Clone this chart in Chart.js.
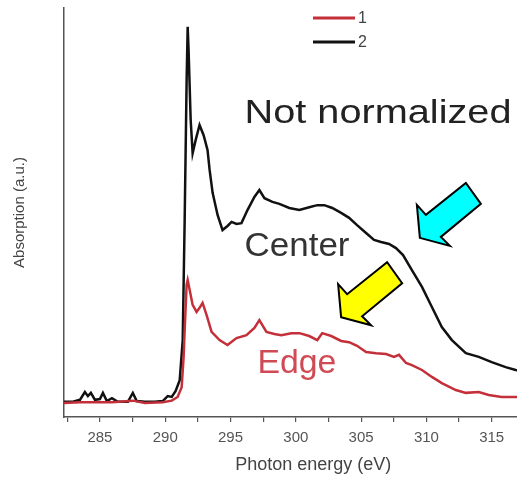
<!DOCTYPE html>
<html>
<head>
<meta charset="utf-8">
<script src="https://cdn.jsdelivr.net/npm/chart.js@4"></script>
<style>
  html, body { margin: 0; padding: 0; background: #fff; overflow: hidden; }
  #wrap { width: 564px; height: 481px; }
</style>
</head>
<body>
<div id="wrap"><canvas id="myChart" width="564" height="481"></canvas></div>
<script>
// series 2 (black, centre)
var energy2 = [282.25, 282.86, 283.47, 283.85, 284.08, 284.31, 284.62, 285.0, 285.23, 285.53, 285.92, 286.37, 287.14, 287.52, 287.82, 288.44, 289.2, 289.81, 290.19, 290.5, 290.8, 291.11, 291.34, 291.49, 291.64, 291.72, 291.79, 291.95, 292.1, 292.33, 292.63, 292.94, 293.24, 293.4, 293.63, 294.01, 294.39, 294.77, 295.08, 295.46, 295.84, 296.3, 296.83, 297.21, 297.6, 298.21, 298.74, 299.5, 300.27, 301.03, 301.64, 302.18, 302.79, 303.47, 304.08, 304.69, 305.38, 305.99, 306.53, 307.14, 307.67, 308.21, 308.89, 309.66, 310.42, 311.18, 311.95, 313.02, 314.01, 315.0, 316.07, 316.83, 317.82, 319.35, 320.42];
var absorb2 = [0.037, 0.037, 0.042, 0.061, 0.051, 0.059, 0.042, 0.044, 0.059, 0.039, 0.046, 0.037, 0.037, 0.059, 0.039, 0.037, 0.037, 0.039, 0.051, 0.049, 0.064, 0.09, 0.188, 0.482, 0.824, 0.954, 0.897, 0.726, 0.645, 0.677, 0.714, 0.689, 0.653, 0.604, 0.548, 0.494, 0.457, 0.467, 0.477, 0.472, 0.474, 0.506, 0.538, 0.555, 0.535, 0.526, 0.521, 0.511, 0.506, 0.513, 0.518, 0.518, 0.511, 0.499, 0.487, 0.469, 0.45, 0.433, 0.428, 0.423, 0.413, 0.396, 0.359, 0.318, 0.269, 0.22, 0.188, 0.156, 0.147, 0.134, 0.122, 0.115, 0.11, 0.108, 0.106];

// series 1 (red, edge)
var energy1 = [282.25, 283.47, 284.62, 285.92, 287.52, 288.44, 289.81, 290.5, 290.95, 291.26, 291.41, 291.49, 291.64, 291.72, 291.87, 292.1, 292.4, 292.63, 292.86, 293.17, 293.55, 294.16, 294.77, 295.46, 296.22, 296.83, 297.21, 297.75, 298.36, 298.89, 299.66, 300.27, 301.03, 301.64, 302.02, 302.71, 303.47, 304.08, 304.69, 305.38, 306.15, 306.91, 307.52, 307.9, 308.44, 308.89, 309.66, 310.42, 311.18, 312.25, 313.02, 314.01, 314.77, 315.76, 316.83, 318.59, 320.42];
var absorb1 = [0.034, 0.036, 0.036, 0.036, 0.04, 0.034, 0.036, 0.04, 0.049, 0.073, 0.147, 0.213, 0.323, 0.335, 0.311, 0.274, 0.257, 0.267, 0.279, 0.249, 0.208, 0.188, 0.176, 0.193, 0.2, 0.218, 0.237, 0.208, 0.203, 0.2, 0.205, 0.205, 0.198, 0.188, 0.205, 0.198, 0.186, 0.183, 0.174, 0.159, 0.156, 0.154, 0.147, 0.152, 0.132, 0.127, 0.115, 0.098, 0.083, 0.066, 0.059, 0.061, 0.054, 0.049, 0.049, 0.046, 0.046];

var seriesLabels = ['1', '2'];
var seriesColors = ['#c4303a', '#111111'];
var xTicks = [282.5, 285, 287.5, 290, 292.5, 295, 297.5, 300, 302.5, 305, 307.5, 310, 312.5, 315, 317.5, 320];
var xLabels = [285, 290, 295, 300, 305, 310, 315];

var font = "'Liberation Sans', Arial, sans-serif";

toPoints = (xs, ys) => xs.map((x, i) => ({ x: x, y: ys[i] }));

// annotations: text and arrows anchored in data units
var notes = [
    { text: 'Not normalized', x: 296.07, y: 0.719, size: 33, width: 267, color: '#222' },
    { text: 'Center', x: 296.07, y: 0.394, size: 33, width: 105, color: '#333' },
    { text: 'Edge', x: 297.06, y: 0.108, size: 33, width: 79, color: '#d04a55' }
];
var arrows = [
    { x: 309.5, y: 0.438, fill: '#00ffff' },
    { x: 303.47, y: 0.244, fill: '#ffff00' }
];
var arrowShape = [[0, 0], [30, 8], [21, -1], [61, -34], [46, -55], [6, -23], [-3, -33]];

var extras = {
    id: 'extras',
    afterDatasetsDraw: (chart) => {
        var ctx = chart.ctx;
        var xs = chart.scales.x, ys = chart.scales.y;
        ctx.save();

        // legend
        chart.data.datasets.forEach((ds, i) => {
            var y = 18 + i * 24;
            ctx.strokeStyle = ds.borderColor;
            ctx.lineWidth = 3;
            ctx.beginPath();
            ctx.moveTo(313, y);
            ctx.lineTo(355, y);
            ctx.stroke();
            ctx.fillStyle = '#444';
            ctx.font = '16px ' + font;
            ctx.textBaseline = 'middle';
            ctx.fillText(ds.label, 358, y + 1);
        });

        // texts
        ctx.textBaseline = 'alphabetic';
        notes.forEach((n) => {
            ctx.font = n.size + 'px ' + font;
            var w = ctx.measureText(n.text).width;
            var px = xs.getPixelForValue(n.x), py = ys.getPixelForValue(n.y);
            ctx.save();
            ctx.translate(px, py);
            ctx.scale(n.width / w, 1);
            ctx.fillStyle = n.color;
            ctx.fillText(n.text, 0, 0);
            ctx.restore();
        });

        // arrows
        arrows.forEach((a) => {
            var px = xs.getPixelForValue(a.x), py = ys.getPixelForValue(a.y);
            ctx.beginPath();
            arrowShape.forEach((p, i) => {
                if (i == 0) ctx.moveTo(px + p[0], py + p[1]);
                else ctx.lineTo(px + p[0], py + p[1]);
            });
            ctx.closePath();
            ctx.fillStyle = a.fill;
            ctx.fill();
            ctx.lineWidth = 2;
            ctx.lineJoin = 'miter';
            ctx.strokeStyle = '#000';
            ctx.stroke();
        });
        ctx.restore();
    }
};

var ctx = document.getElementById('myChart').getContext('2d');
var myChart = new Chart(ctx, {
    type: 'line',
    data: {
        datasets: [{
            label: seriesLabels[0],
            data: toPoints(energy1, absorb1),
            borderColor: seriesColors[0],
            borderWidth: 2.5,
            pointRadius: 0,
            fill: false
        }, {
            label: seriesLabels[1],
            data: toPoints(energy2, absorb2),
            borderColor: seriesColors[1],
            borderWidth: 2.5,
            pointRadius: 0,
            fill: false
        }]
    },
    options: {
        responsive: false,
        animation: false,
        devicePixelRatio: 1,
        layout: { padding: { top: 8, left: 0, right: 0, bottom: 0 } },
        plugins: {
            legend: { display: false },
            tooltip: { enabled: false }
        },
        scales: {
            x: {
                type: 'linear',
                min: 282.25,
                max: 320.42,
                afterBuildTicks: (scale) => { scale.ticks = xTicks.map((v) => ({ value: v })); },
                afterFit: (scale) => { scale.height = 64; },
                ticks: {
                    autoSkip: false,
                    maxRotation: 0,
                    padding: 7,
                    color: '#555',
                    font: { family: font, size: 15 },
                    callback: (v) => (xLabels.includes(v) ? String(v) : '')
                },
                grid: { drawOnChartArea: false, tickLength: 5, color: '#555', lineWidth: 1.2 },
                border: { color: '#555', width: 1.5 },
                title: {
                    display: true,
                    text: 'Photon energy (eV)',
                    color: '#444',
                    font: { family: font, size: 18 },
                    padding: { top: 0, bottom: 5 }
                }
            },
            y: {
                min: 0,
                max: 1,
                afterFit: (scale) => { scale.width = 64; },
                ticks: { display: false },
                grid: { display: false },
                border: { color: '#555', width: 1.5 },
                title: {
                    display: true,
                    text: 'Absorption (a.u.)',
                    color: '#444',
                    font: { family: font, size: 15 },
                    padding: { top: 11, bottom: 0 }
                }
            }
        }
    },
    plugins: [extras]
});
</script>
</body>
</html>
